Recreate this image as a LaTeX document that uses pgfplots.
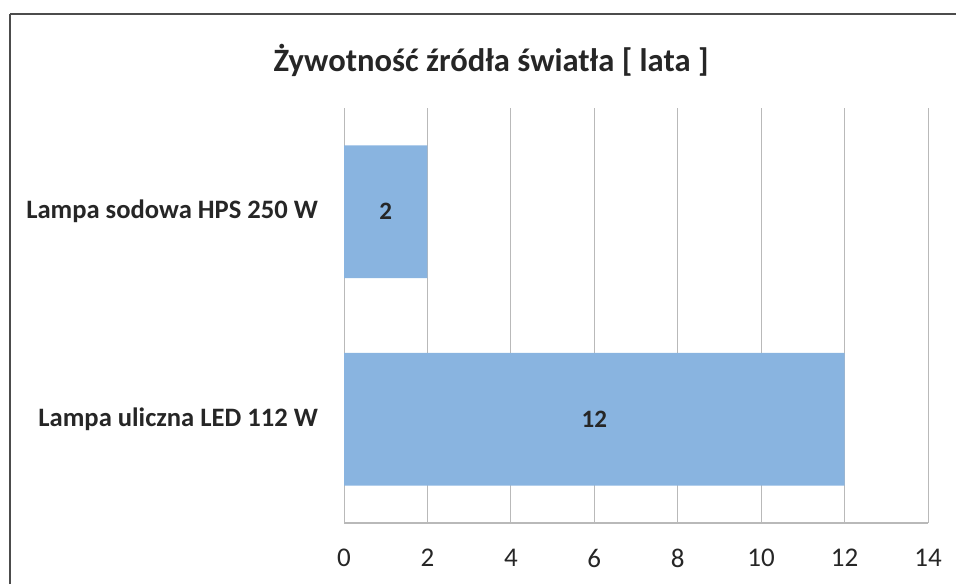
\documentclass[border=0pt]{standalone}
\usepackage{pgfplots}
\pgfplotsset{compat=1.18}
\usepackage{fontspec}
\setmainfont{Carlito}
\definecolor{barblue}{RGB}{137,180,224}
\definecolor{gridgray}{RGB}{185,185,185}
\begin{document}
\begin{tikzpicture}
\useasboundingbox (0,0) rectangle (478pt,292pt);
\draw[line width=0.6pt, color=black!70] (5pt,0pt) -- (5pt,285pt);
\draw[line width=0.6pt, color=black!70] (5pt,285pt) -- (478pt,285pt);
\node[font=\fontsize{16.3}{19}\selectfont\bfseries, text=black!85] at (245.5pt,262pt) {Żywotność źródła światła [ lata ]};
\begin{axis}[
  at={(172pt,30.5pt)}, anchor=south west,
  scale only axis, width=292pt, height=207.5pt,
  xmin=0, xmax=14, ymin=-0.5, ymax=1.5,
  xtick={0,2,...,14},
  ytick={0,1},
  yticklabels={Lampa uliczna LED 112 W, Lampa sodowa HPS 250 W},
  axis line style={draw=none},
  major tick length=0pt,
  xmajorgrids, grid style={gridgray, line width=0.5pt},
  xticklabel style={font=\fontsize{13.5}{16}\selectfont, text=black!85, yshift=-9.5pt},
  yticklabel style={font=\fontsize{13.3}{16}\selectfont\bfseries, text=black!85, xshift=-9.5pt},
  /pgf/number format/assume math mode=true,
  clip=false,
]
\addplot[xbar, bar width=0.64, fill=barblue, draw=none] coordinates {(12,0) (2,1)};
\addplot[only marks, mark=none, point meta=explicit, nodes near coords,
  nodes near coords style={anchor=center, font=\fontsize{12.5}{14}\selectfont\bfseries, text=black!85}]
  coordinates {(6,0) [12] (1,1) [2]};
\draw[gridgray, line width=0.6pt] (axis cs:0,-0.5) -- (axis cs:14,-0.5);
\end{axis}
\end{tikzpicture}
\end{document}
